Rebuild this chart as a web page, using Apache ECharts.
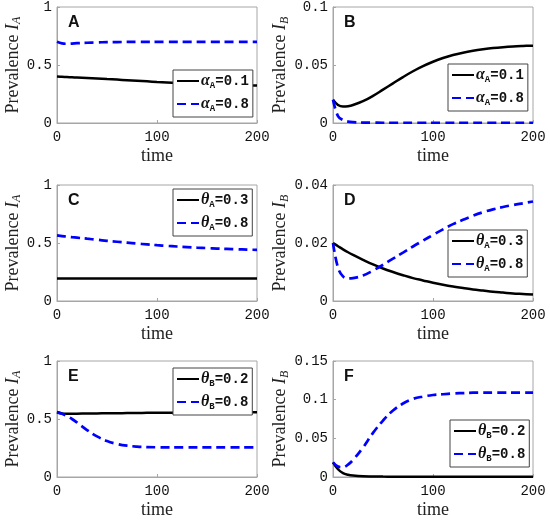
<!DOCTYPE html>
<html>
<head>
<meta charset="utf-8">
<script src="https://cdn.jsdelivr.net/npm/echarts@6/dist/echarts.min.js"></script>
<style>
html, body { margin: 0; padding: 0; background: #fff; }
#main { width: 550px; height: 522px; }
</style>
</head>
<body>
<div id="main"></div>
<script>
// sample times (shared by every curve)
var times = [0, 5, 10, 15, 20, 30, 40, 50, 60, 70, 80, 90, 100, 110, 120, 130, 140, 150, 160, 170, 180, 190, 200];

// panel A / B : alpha_A
var aIA_01 = [0.400, 0.398, 0.396, 0.394, 0.392, 0.388, 0.384, 0.379, 0.374, 0.369, 0.364, 0.359, 0.354, 0.350, 0.346, 0.342, 0.339, 0.336, 0.333, 0.330, 0.328, 0.325, 0.323];
var aIA_08 = [0.700, 0.686, 0.683, 0.685, 0.688, 0.692, 0.695, 0.697, 0.698, 0.699, 0.700, 0.700, 0.700, 0.700, 0.700, 0.700, 0.700, 0.700, 0.700, 0.700, 0.700, 0.700, 0.700];
var bIB_01 = [0.0200, 0.0155, 0.0142, 0.0145, 0.0155, 0.0188, 0.0234, 0.0288, 0.0342, 0.0396, 0.0446, 0.0490, 0.0528, 0.0560, 0.0586, 0.0606, 0.0622, 0.0635, 0.0646, 0.0654, 0.0660, 0.0664, 0.0667];
var bIB_08 = [0.0200, 0.0060, 0.0025, 0.0012, 0.0007, 0.0004, 0.0003, 0.0002, 0.0002, 0.0002, 0.0002, 0.0002, 0.0002, 0.0002, 0.0002, 0.0002, 0.0002, 0.0002, 0.0002, 0.0002, 0.0002, 0.0002, 0.0002];

// panel C / D : theta_A
var cIA_03 = [0.195, 0.195, 0.195, 0.195, 0.195, 0.195, 0.195, 0.195, 0.195, 0.195, 0.195, 0.195, 0.195, 0.195, 0.195, 0.195, 0.195, 0.195, 0.195, 0.195, 0.195, 0.195, 0.195];
var cIA_08 = [0.565, 0.560, 0.555, 0.550, 0.546, 0.537, 0.528, 0.519, 0.511, 0.503, 0.495, 0.488, 0.481, 0.475, 0.470, 0.465, 0.460, 0.456, 0.452, 0.449, 0.446, 0.443, 0.441];
var dIB_03 = [0.0200, 0.0189, 0.0178, 0.0168, 0.0159, 0.0142, 0.0126, 0.0112, 0.0100, 0.0089, 0.0079, 0.0071, 0.0063, 0.0056, 0.0050, 0.0045, 0.0040, 0.0036, 0.0032, 0.0029, 0.0026, 0.0024, 0.0022];
var dIB_08 = [0.0200, 0.0115, 0.0085, 0.0078, 0.0079, 0.0088, 0.0105, 0.0125, 0.0146, 0.0167, 0.0188, 0.0208, 0.0228, 0.0247, 0.0265, 0.0280, 0.0294, 0.0306, 0.0316, 0.0324, 0.0331, 0.0337, 0.0343];

// panel E / F : theta_B
var eIA_02 = [0.560, 0.548, 0.545, 0.545, 0.546, 0.547, 0.548, 0.549, 0.550, 0.551, 0.552, 0.553, 0.554, 0.5545, 0.555, 0.5555, 0.556, 0.5565, 0.557, 0.557, 0.557, 0.5575, 0.558];
var eIA_08 = [0.557, 0.545, 0.525, 0.500, 0.470, 0.405, 0.350, 0.310, 0.285, 0.270, 0.262, 0.258, 0.256, 0.255, 0.255, 0.255, 0.255, 0.255, 0.255, 0.255, 0.255, 0.255, 0.255];
var fIB_02 = [0.0190, 0.0100, 0.0050, 0.0030, 0.0020, 0.0010, 0.0007, 0.0005, 0.0004, 0.0003, 0.0003, 0.0003, 0.0003, 0.0003, 0.0003, 0.0003, 0.0003, 0.0003, 0.0003, 0.0003, 0.0003, 0.0003, 0.0003];
var fIB_08 = [0.0190, 0.0135, 0.0125, 0.0160, 0.0220, 0.0380, 0.0570, 0.0730, 0.0860, 0.0950, 0.1010, 0.1040, 0.1060, 0.1070, 0.1080, 0.1085, 0.1090, 0.1090, 0.1090, 0.1090, 0.1090, 0.1090, 0.1090];

// y axis ranges / tick step per panel
var yMax = [1, 0.1, 1, 0.04, 1, 0.15];
var yStep = [0.5, 0.05, 0.5, 0.02, 0.5, 0.05];
var panelLetters = ['A', 'B', 'C', 'D', 'E', 'F'];
var yVar = ['A', 'B', 'A', 'B', 'A', 'B'];

// legend labels: [greek, subscript, rest]
var legendNames = [
    ['α', 'A', '=0.1'], ['α', 'A', '=0.8'],
    ['θ', 'A', '=0.3'], ['θ', 'A', '=0.8'],
    ['θ', 'B', '=0.2'], ['θ', 'B', '=0.8']
];

var lefts = [57, 333];
var tops = [7, 185, 361];
var legendPos = [[173, 70], [448, 64], [173, 189], [448, 230], [173, 368], [450, 420]];

var monoFont = '"Liberation Mono", "DejaVu Sans Mono", monospace';
var serifFont = '"Liberation Serif", "DejaVu Serif", serif';
var frameColor = '#a6a6a6';

function pairs(vals) {
    return times.map(function (t, i) { return [t, vals[i]]; });
}

function nameOf(k) {
    return legendNames[k][0] + legendNames[k][1] + legendNames[k][2];
}

var grids = [], xAxes = [], yAxes = [], legends = [], titles = [], series = [];
var panelData = [
    [aIA_01, aIA_08], [bIB_01, bIB_08],
    [cIA_03, cIA_08], [dIB_03, dIB_08],
    [eIA_02, eIA_08], [fIB_02, fIB_08]
];

for (var p = 0; p < 6; p++) {
    var col = p % 2, row = Math.floor(p / 2);
    grids.push({
        left: lefts[col], top: tops[row], width: 200, height: 116,
        show: true, borderColor: frameColor, borderWidth: 1, backgroundColor: '#fff'
    });
    xAxes.push({
        type: 'value', gridIndex: p, min: 0, max: 200, interval: 100,
        name: 'time', nameLocation: 'middle', nameGap: 24,
        nameTextStyle: {fontFamily: serifFont, fontSize: 18, color: '#222'},
        axisLine: {lineStyle: {color: frameColor}},
        axisTick: {inside: true, length: 3, lineStyle: {color: frameColor}},
        axisLabel: {fontFamily: monoFont, fontSize: 14, color: '#111', margin: 7},
        splitLine: {show: false}
    });
    yAxes.push({
        type: 'value', gridIndex: p, min: 0, max: yMax[p], interval: yStep[p],
        name: '{p|Prevalence }{i|I}{s|' + yVar[p] + '}',
        nameLocation: 'middle', nameGap: col === 0 ? 34 : 39,
        nameTextStyle: {
            rich: {
                p: {fontFamily: serifFont, fontSize: 18, color: '#222'},
                i: {fontFamily: serifFont, fontSize: 18, fontStyle: 'italic', color: '#222'},
                s: {fontFamily: serifFont, fontSize: 12, fontStyle: 'italic', color: '#222', padding: [8, 0, 0, 0]}
            }
        },
        axisLine: {show: true, lineStyle: {color: frameColor}},
        axisTick: {show: true, inside: true, length: 3, lineStyle: {color: frameColor}},
        axisLabel: {fontFamily: monoFont, fontSize: 14, color: '#111', margin: 5},
        splitLine: {show: false}
    });
    titles.push({
        text: panelLetters[p], left: lefts[col] + 11, top: tops[row] + 8, padding: 0,
        textStyle: {fontFamily: '"Liberation Sans", Arial, sans-serif', fontWeight: 'bold', fontSize: 16, color: '#111'}
    });

    var k = Math.floor(p / 2) * 2;
    legends.push({
        data: [nameOf(k), nameOf(k + 1)],
        orient: 'vertical', left: legendPos[p][0], top: legendPos[p][1],
        backgroundColor: '#fff', borderColor: '#444', borderWidth: 1,
        padding: [3, 4, 4, 3], itemGap: 6, itemWidth: 22, itemHeight: 18,
        selectedMode: false,
        // hide the marker dot, keep the line sample
        itemStyle: {color: 'rgba(0,0,0,0)', borderColor: 'rgba(0,0,0,0)', borderWidth: 0, opacity: 0},
        formatter: function (n) {
            return '{g|' + n.charAt(0) + '}{s|' + n.charAt(1) + '}{t|' + n.slice(2) + '}';
        },
        textStyle: {
            padding: [0, 0, 0, -3],
            rich: {
                g: {fontFamily: serifFont, fontStyle: 'italic', fontWeight: 'bold', fontSize: 16, color: '#111'},
                s: {fontFamily: monoFont, fontWeight: 'bold', fontSize: 9, color: '#111', padding: [9, 0, 0, 0]},
                t: {fontFamily: monoFont, fontWeight: 'bold', fontSize: 14, color: '#111'}
            }
        }
    });

    series.push({
        name: nameOf(k), type: 'line', xAxisIndex: p, yAxisIndex: p,
        data: pairs(panelData[p][0]), showSymbol: false, symbol: 'none',
        smooth: 0.4,
        lineStyle: {color: '#000', width: 2.5}, itemStyle: {color: '#000'}
    });
    series.push({
        name: nameOf(k + 1), type: 'line', xAxisIndex: p, yAxisIndex: p,
        data: pairs(panelData[p][1]), showSymbol: false, symbol: 'none',
        smooth: 0.4,
        lineStyle: {color: '#0000ff', width: 2.7, type: [9, 5]}, itemStyle: {color: '#0000ff'}
    });
}

var chart = echarts.init(document.getElementById('main'));
chart.setOption({
    animation: false,
    backgroundColor: '#fff',
    title: titles,
    grid: grids,
    xAxis: xAxes,
    yAxis: yAxes,
    legend: legends,
    series: series
});
</script>
</body>
</html>
